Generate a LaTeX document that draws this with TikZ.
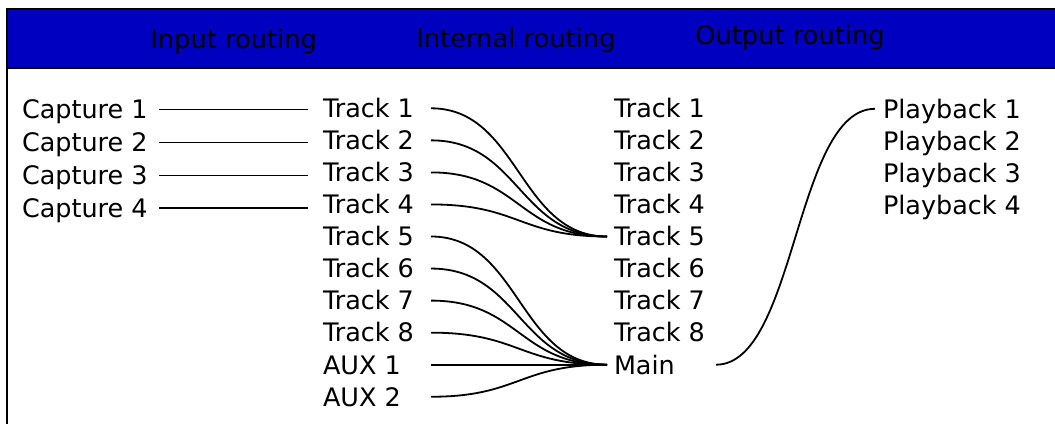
\documentclass[tikz,border=0pt]{standalone}
\usepackage{fontspec}
\setmainfont{DejaVu Sans}
\definecolor{bandblue}{RGB}{0,0,192}
\tikzset{
  x=0.75pt, y=-0.75pt,
  lbl/.style={anchor=west, inner sep=0pt, outer sep=0pt, text height=17.2pt, text depth=3.25pt,
    font=\fontsize{19.1}{23}\selectfont},
  head/.style={anchor=base west, inner sep=0pt, font=\fontsize{19.3}{23}\selectfont},
  wire/.style={line width=1.35pt, black},
  frameline/.style={line width=1.5pt, black},
}
\begin{document}
\begin{tikzpicture}
\useasboundingbox (0,0) rectangle (1055,424);
\clip (0,0) rectangle (1055,424);
% frame and header band
\fill[bandblue] (7,9) rectangle (1070,68);
\draw[frameline] (7,440) -- (7,9) -- (1070,9);
\draw[frameline] (7,68) -- (1070,68);
% header texts
\node[head] (hin) at (150,48.3) {Input routing};
\node[head] (hint) at (416,47.3) {Internal routing};
\node[head] (hout) at (695,45) {Output routing};
% capture column
\foreach \i/\y in {1/109.5,2/142.5,3/175.5,4/208}
  \node[lbl] (cap\i) at (22,\y) {Capture \i};
% input tracks column
\foreach \i in {1,...,8}
  \node[lbl] (ti\i) at (323,{108.3+32.05*(\i-1)}) {Track \i};
\node[lbl] (tiA1) at (323,{108.3+32.05*8}) {AUX 1};
\node[lbl] (tiA2) at (323,{108.3+32.05*9}) {AUX 2};
% output tracks column
\foreach \i in {1,...,8}
  \node[lbl] (to\i) at (614,{108.3+32.05*(\i-1)}) {Track \i};
\node[lbl] (toM) at (614,{108.3+32.05*8}) {Main};
% playback column
\foreach \i in {1,...,4}
  \node[lbl] (pb\i) at (883,{108.8+32.05*(\i-1)}) {Playback \i};
% input routing
\foreach \i in {1,...,4}
  \draw[wire] ([shift={(137,0)}]cap\i.west) -- ([shift={(-15,0)}]ti\i.west |- cap\i.west);
% internal routing
\foreach \s in {ti1,ti2,ti3,ti4}
  \draw[wire] ([shift={(108,0)}]\s.west) .. controls +(88,0) and +(-88,0) .. ([shift={(-7,0)}]to5.west);
\foreach \s in {ti5,ti6,ti7,ti8,tiA1,tiA2}
  \draw[wire] ([shift={(108,0)}]\s.west) .. controls +(88,0) and +(-88,0) .. ([shift={(-7,0)}]toM.west);
% output routing
\draw[wire] ([shift={(102,0)}]toM.west) .. controls +(80,0) and +(-80,0) .. ([shift={(-8,0)}]pb1.west);
\end{tikzpicture}
\end{document}
